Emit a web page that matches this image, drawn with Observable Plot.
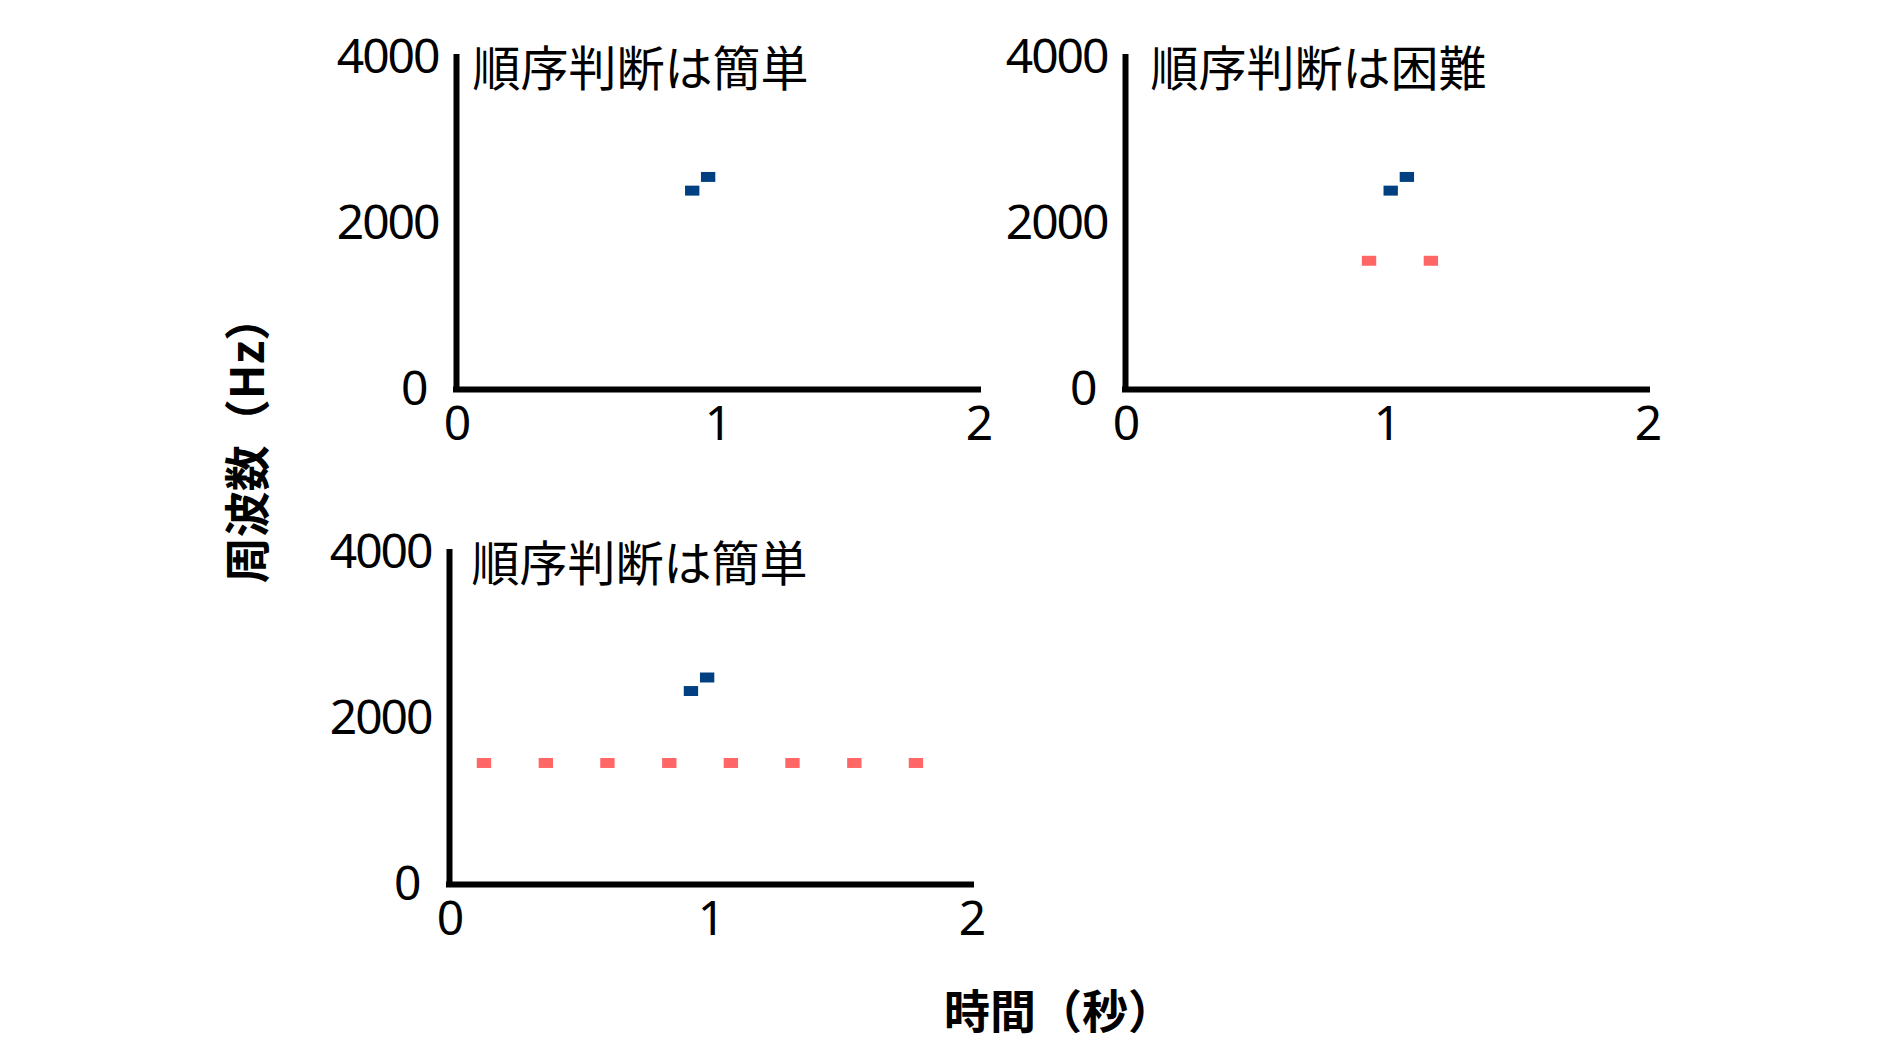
<!DOCTYPE html>
<html>
<head>
<meta charset="utf-8">
<script src="https://cdn.jsdelivr.net/npm/d3@7"></script>
<script src="https://cdn.jsdelivr.net/npm/@observablehq/plot@0.6"></script>
<style>
html, body { margin: 0; padding: 0; background: #ffffff; }
#root { position: relative; width: 1890px; height: 1050px; overflow: hidden; font-family: "Noto Sans CJK JP", sans-serif; }
.panel { position: absolute; }
.axis-title { position: absolute; font-family: "Noto Sans CJK JP", sans-serif; font-weight: 700; font-size: 46px; line-height: 1; white-space: nowrap; color: #000; }
</style>
</head>
<body>
<div id="root"></div>
<script>
// ---- data ----
const timeTicks = [0, 1, 2];
const freqTicks = [0, 2000, 4000];
const panelTitles = ["順序判断は簡単", "順序判断は困難", "順序判断は簡単"];
const targetTimes = [[0.905, 0.966], [1.018, 1.080], [0.927, 0.989]];
const targetFreqs = [[2390, 2555], [2390, 2555], [2325, 2488]];
const distractorTimes = [[], [0.935, 1.172], [0.134, 0.371, 0.607, 0.844, 1.080, 1.316, 1.553, 1.789]];
const distractorFreqs = [0, 1545, 1458];
const xTitle = "時間（秒）";
const yTitle = "周波数（Hz）";

// ---- style / layout ----
const targetColor = "#004080";
const distractorColor = "#ff6666";
const toneHalfDur = 0.0275;   // s
const toneHalfBand = 60;      // Hz
const panelPos = [{left: 326, top: 0, dx: 16}, {left: 994.5, top: 0, dx: 25}, {left: 319, top: 495, dx: 22}];
const marginLeft = 130;

const root = document.getElementById("root");

function makePanel(i) {
  const tones = [];
  targetTimes[i].forEach((t, k) => tones.push({t, f: targetFreqs[i][k], kind: "target"}));
  distractorTimes[i].forEach(t => tones.push({t, f: distractorFreqs[i], kind: "distractor"}));
  return Plot.plot({
    width: 700,
    height: 460,
    marginLeft,
    marginTop: 57,
    marginRight: 48,
    marginBottom: 71,
    x: {domain: [0, 2], ticks: timeTicks, tickFormat: d3.format("d"), tickSize: 0, tickPadding: 16, label: null},
    y: {domain: [0, 4000], ticks: freqTicks, tickFormat: d3.format("d"), tickSize: 0, tickPadding: 18, label: null},
    color: {domain: ["target", "distractor"], range: [targetColor, distractorColor]},
    style: {fontFamily: '"Noto Sans", "Noto Sans CJK JP", sans-serif', fontSize: "48px", color: "#000", background: "transparent", overflow: "visible"},
    marks: [
      Plot.rect(tones, {
        x1: d => d.t - toneHalfDur, x2: d => d.t + toneHalfDur,
        y1: d => d.f - toneHalfBand, y2: d => d.f + toneHalfBand,
        fill: "kind", inset: 0
      }),
      Plot.ruleX([0], {y1: 0, y2: 4000, stroke: "#000", strokeWidth: 6, strokeLinecap: "square"}),
      Plot.ruleY([0], {x1: 0, x2: 2, stroke: "#000", strokeWidth: 6, strokeLinecap: "square"}),
      Plot.text([panelTitles[i]], {
        text: d => d, frameAnchor: "top-left", textAnchor: "start", lineAnchor: "middle",
        dx: panelPos[i].dx, dy: 13, fontSize: 48, fontFamily: '"Noto Sans CJK JP", sans-serif', fill: "#000"
      })
    ]
  });
}

for (let i = 0; i < 3; i++) {
  const svg = makePanel(i);
  svg.classList.add("panel");
  svg.style.left = panelPos[i].left + "px";
  svg.style.top = panelPos[i].top + "px";
  root.appendChild(svg);
  const svgBox = svg.getBoundingClientRect();
  d3.select(svg).selectAll("text").each(function () {
    const txt = this.textContent.trim();
    if (/^\d+$/.test(txt)) {
      this.style.letterSpacing = "-2px";
      const b = this.getBoundingClientRect();
      // the y-axis "0" label sits a little further left in the reference
      if (txt === "0" && (b.left + b.width / 2 - svgBox.left) < marginLeft - 5) {
        d3.select(this).attr("dx", -12);
      }
    }
  });
}

const xt = document.createElement("div");
xt.className = "axis-title";
xt.textContent = xTitle;
xt.style.left = "1059px";
xt.style.top = "1008px";
xt.style.transform = "translate(-50%, -50%)";
root.appendChild(xt);

const yt = document.createElement("div");
yt.className = "axis-title";
yt.textContent = yTitle;
yt.style.left = "244px";
yt.style.top = "439px";
yt.style.transform = "translate(-50%, -50%) rotate(-90deg)";
root.appendChild(yt);
</script>
</body>
</html>
